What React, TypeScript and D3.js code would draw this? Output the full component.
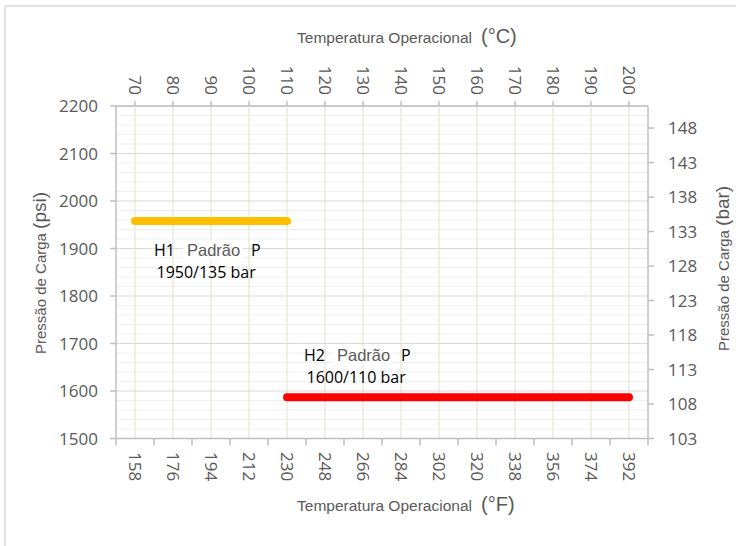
import React from "react";
import * as d3 from "d3";

// ---- data ----
const tempC = ["70", "80", "90", "100", "110", "120", "130", "140", "150", "160", "170", "180", "190", "200"];
const tempF = ["158", "176", "194", "212", "230", "248", "266", "284", "302", "320", "338", "356", "374", "392"];
const psiTicks = [1500, 1600, 1700, 1800, 1900, 2000, 2100, 2200];
const psiMinor = [1520, 1540, 1560, 1580, 1620, 1640, 1660, 1680, 1720, 1740, 1760, 1780, 1820, 1840, 1860, 1880, 1920, 1940, 1960, 1980, 2020, 2040, 2060, 2080, 2120, 2140, 2160, 2180];
const barTicks = [103, 108, 113, 118, 123, 128, 133, 138, 143, 148];
const seriesNames = ["H1", "H2"];
const seriesStart = ["70", "110"];
const seriesEnd = ["110", "200"];
const seriesPsi = [1958, 1587];
const seriesRating = ["1950/135 bar", "1600/110 bar"];
const seriesColors = ["#FFC000", "#FF0000"];

const W = 736;
const H = 546;
const L = 116, R = 648, T = 106, B = 438.5;
const AX = "#BFBFBF";
const TXT = "#595959";
const NUM_FONT = "'Open Sans', 'Noto Sans', sans-serif";
const TITLE_FONT = "'Liberation Sans', Arial, sans-serif";

export default function App() {
  const x = d3.scaleBand<string>().domain(tempC).range([L, R]).padding(0);
  const xF = d3.scaleBand<string>().domain(tempF).range([L, R]).padding(0);
  const bw = x.bandwidth();
  const cx = (c: string) => (x(c) as number) + bw / 2;
  const cxF = (c: string) => (xF(c) as number) + bw / 2;
  const yPsi = d3.scaleLinear().domain([1500, 2200]).range([B, T]);
  const yBar = d3.scaleLinear().domain([103, 151.2]).range([B, T]);
  const boundaries = tempF.map((c) => xF(c) as number).concat([R]);

  const labelOffsets = [
    { dx: 19, dy1: 35, dy2: 57 },
    { dx: 17, dy1: -36.5, dy2: -14 },
  ];

  return (
    <svg width={W} height={H} style={{ position: "absolute", left: 0, top: 0, background: "#fff" }}>
      <rect x={0} y={0} width={W} height={H} fill="#fff" />
      {/* frame */}
      <line x1={5} y1={6} x2={W} y2={6} stroke="#D9D9D9" strokeWidth={1.5} />
      <line x1={5} y1={6} x2={5} y2={H} stroke="#D9D9D9" strokeWidth={1.5} />

      {/* minor horizontal grid */}
      {psiMinor.map((v) => (
        <line key={"mn" + v} x1={L} x2={R} y1={yPsi(v)} y2={yPsi(v)} stroke="#EFEFEF" strokeWidth={1} />
      ))}
      {/* vertical grid */}
      {tempC.map((c) => (
        <line key={"vg" + c} x1={cx(c)} x2={cx(c)} y1={T} y2={B} stroke="#EBE9DC" strokeWidth={1.5} />
      ))}
      {/* major horizontal grid */}
      {psiTicks.map((v) => (
        <line key={"mj" + v} x1={L} x2={R} y1={yPsi(v)} y2={yPsi(v)} stroke="#D9D9D9" strokeWidth={1.2} />
      ))}

      {/* axes */}
      <line x1={L} x2={L} y1={T} y2={B} stroke={AX} strokeWidth={1.5} />
      <line x1={R} x2={R} y1={T} y2={B} stroke={AX} strokeWidth={1.5} />
      <line x1={L} x2={R} y1={T} y2={T} stroke={AX} strokeWidth={1.5} />
      <line x1={L} x2={R} y1={B} y2={B} stroke={AX} strokeWidth={1.5} />

      {/* left ticks + labels */}
      {psiTicks.map((v) => (
        <g key={"lt" + v}>
          <line x1={L - 6} x2={L} y1={yPsi(v)} y2={yPsi(v)} stroke={AX} strokeWidth={1.5} />
          <text x={98} y={yPsi(v)} dy="0.36em" textAnchor="end" fontFamily={NUM_FONT} fontSize={17} fill={TXT}>
            {v}
          </text>
        </g>
      ))}
      {/* right ticks + labels */}
      {barTicks.map((v) => (
        <g key={"rt" + v}>
          <line x1={R} x2={R + 6} y1={yBar(v)} y2={yBar(v)} stroke={AX} strokeWidth={1.5} />
          <text x={668} y={yBar(v)} dy="0.36em" textAnchor="start" fontFamily={NUM_FONT} fontSize={17} fill={TXT}>
            {v}
          </text>
        </g>
      ))}
      {/* top ticks + labels */}
      {tempC.map((c) => (
        <g key={"tt" + c}>
          <line x1={cx(c)} x2={cx(c)} y1={T - 5} y2={T} stroke={AX} strokeWidth={1.5} />
          <text
            transform={`translate(${cx(c)},95) rotate(90)`}
            textAnchor="end"
            dy="0.36em"
            fontFamily={NUM_FONT}
            fontSize={17}
            fill={TXT}
          >
            {c}
          </text>
        </g>
      ))}
      {/* bottom ticks + labels */}
      {boundaries.map((bx, i) => (
        <line key={"bt" + i} x1={bx} x2={bx} y1={B} y2={B + 7} stroke={AX} strokeWidth={1.5} />
      ))}
      {tempF.map((c) => (
        <text
          key={"bl" + c}
          transform={`translate(${cxF(c)},452) rotate(90)`}
          textAnchor="start"
          dy="0.36em"
          fontFamily={NUM_FONT}
          fontSize={17}
          fill={TXT}
        >
          {c}
        </text>
      ))}

      {/* axis titles */}
      <text x={297} y={43} fontFamily={TITLE_FONT} fontSize={15.5} fill={TXT}>
        <tspan textLength={175} lengthAdjust="spacingAndGlyphs">Temperatura Operacional</tspan>
        <tspan x={481} fontSize={20}>(°C)</tspan>
      </text>
      <text x={297} y={511} fontFamily={TITLE_FONT} fontSize={15.5} fill={TXT}>
        <tspan textLength={175} lengthAdjust="spacingAndGlyphs">Temperatura Operacional</tspan>
        <tspan x={481} fontSize={20}>(°F)</tspan>
      </text>
      <text transform="translate(46,354) rotate(-90)" fontFamily={TITLE_FONT} fontSize={15} fill={TXT}>
        <tspan>Pressão de Carga </tspan>
        <tspan fontSize={19}>(psi)</tspan>
      </text>
      <text transform="translate(729,351) rotate(-90)" fontFamily={TITLE_FONT} fontSize={15} fill={TXT}>
        <tspan>Pressão de Carga </tspan>
        <tspan fontSize={19}>(bar)</tspan>
      </text>

      {/* series lines */}
      {seriesNames.map((n, i) => (
        <line
          key={"s" + n}
          x1={cx(seriesStart[i])}
          x2={cx(seriesEnd[i])}
          y1={yPsi(seriesPsi[i])}
          y2={yPsi(seriesPsi[i])}
          stroke={seriesColors[i]}
          strokeWidth={8}
          strokeLinecap="round"
        />
      ))}

      {/* annotations */}
      {seriesNames.map((n, i) => {
        const x0 = cx(seriesStart[i]) + labelOffsets[i].dx;
        const y0 = yPsi(seriesPsi[i]);
        return (
          <g key={"a" + n}>
            <rect x={x0 + 29} y={y0 + labelOffsets[i].dy1 - 14} width={60} height={18} fill="#fff" />
            <text x={x0} y={y0 + labelOffsets[i].dy1} fontFamily={NUM_FONT} fontSize={16} fill="#000">
              {n}
            </text>
            <text x={x0 + 33} y={y0 + labelOffsets[i].dy1} fontFamily={TITLE_FONT} fontSize={16.5} fill={TXT}>
              Padrão
            </text>
            <text x={x0 + 97} y={y0 + labelOffsets[i].dy1} fontFamily={NUM_FONT} fontSize={16} fill="#000">
              P
            </text>
            <text x={x0 + 2.5} y={y0 + labelOffsets[i].dy2} fontFamily={NUM_FONT} fontSize={16} fill="#000">
              {seriesRating[i]}
            </text>
          </g>
        );
      })}
    </svg>
  );
}
